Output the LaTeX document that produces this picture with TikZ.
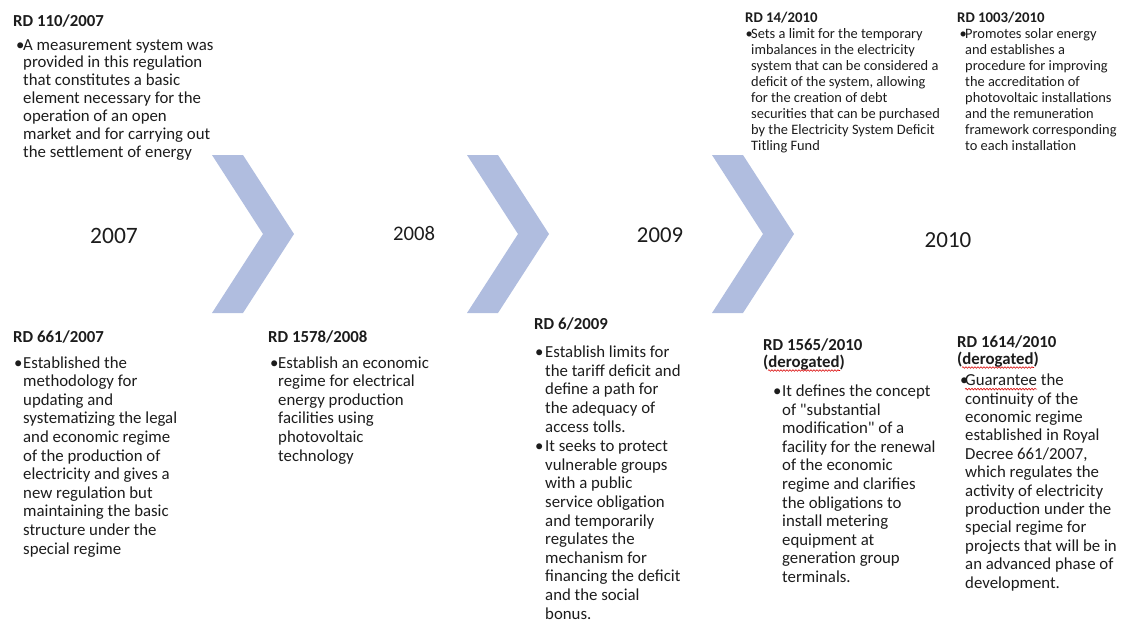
\documentclass[tikz,border=0pt]{standalone}
\usepackage{fontspec}
\setmainfont{Carlito}
\usetikzlibrary{decorations.pathmorphing}
\definecolor{chev}{RGB}{176,189,223}
\definecolor{ink}{RGB}{28,28,28}
\tikzset{
  head/.style={anchor=base west, inner sep=0pt, text=ink, align=left,
    font=\fontsize{16.8}{17.5}\selectfont\bfseries},
  body/.style={anchor=base west, inner sep=0pt, text=ink, align=left,
    font=\fontsize{16.8}{18.6}\selectfont},
  smallhead/.style={head, font=\fontsize{14.8}{16}\selectfont\bfseries},
  smallbody/.style={body, font=\fontsize{14.4}{16.1}\selectfont},
  bul/.style={anchor=base west, inner sep=0pt, text=ink, font=\fontsize{16.8}{18.6}\selectfont},
  smallbul/.style={bul, font=\fontsize{14.4}{16.1}\selectfont},
  year/.style={anchor=base, inner sep=0pt, text=ink},
  squiggle/.style={red!85!black, line width=0.6pt,
    decorate, decoration={snake, amplitude=0.8pt, segment length=3pt}}
}
\begin{document}
\begin{tikzpicture}[x=1pt, y=-1pt]
\useasboundingbox (0,0) rectangle (1126,621);
\foreach \x in {212,467,712}
  \fill[chev] (\x,155) -- (\x+31,155) -- (\x+82,234) -- (\x+31,313)
    -- (\x,313) -- (\x+51,234) -- cycle;

\node[year, font=\fontsize{23.5}{28}\selectfont] (y07) at (114,243) {2007};
\node[year, font=\fontsize{20.7}{25}\selectfont] (y08) at (414,240) {2008};
\node[year, font=\fontsize{22.7}{27}\selectfont] (y09) at (660,242) {2009};
\node[year, font=\fontsize{23}{27}\selectfont] (y10) at (948,247) {2010};

\node[head] (h110) at (13,27) {RD 110/2007};
\node[bul] (b110) at (16,50) {\textbullet};
\node[body, font=\fontsize{16.8}{17.9}\selectfont] (t110) at (23,157.4) {A measurement system was\\
  provided in this regulation\\that constitutes a basic\\element necessary for the\\
  operation of an open\\market and for carrying out\\the settlement of energy};

\node[smallhead] (h14) at (745,22) {RD 14/2010};
\node[smallbul] (b14) at (745.5,38) {\textbullet};
\node[smallbody] (t14) at (751,150.7) {Sets a limit for the temporary\\imbalances in the electricity\\
  system that can be considered a\\deficit of the system, allowing\\for the creation of debt\\
  securities that can be purchased\\by the Electricity System Deficit\\Titling Fund};

\node[smallhead] (h1003) at (957,22) {RD 1003/2010};
\node[smallbul] (b1003) at (959.5,38) {\textbullet};
\node[smallbody] (t1003) at (965,150.7) {Promotes solar energy\\and establishes a\\
  procedure for improving\\the accreditation of\\photovoltaic installations\\
  and the remuneration\\framework corresponding\\to each installation};

\node[head] (h661) at (13,342) {RD 661/2007};
\node[bul] (b661) at (14,368) {\textbullet};
\node[body] (t661) at (23,554) {Established the\\methodology for\\updating and\\
  systematizing the legal\\and economic regime\\of the production of\\
  electricity and gives a\\new regulation but\\maintaining the basic\\
  structure under the\\special regime};

\node[head] (h1578) at (268,342) {RD 1578/2008};
\node[bul] (b1578) at (270,368) {\textbullet};
\node[body] (t1578) at (278,461) {Establish an economic\\regime for electrical\\
  energy production\\facilities using\\photovoltaic\\technology};

\node[head] (h6) at (534,329) {RD 6/2009};
\node[bul] (b6a) at (535,357.6) {\textbullet};
\node[body] (t6a) at (545,432) {Establish limits for\\the tariff deficit and\\
  define a path for\\the adequacy of\\access tolls.};
\node[bul] (b6b) at (535,451.6) {\textbullet};
\node[body] (t6b) at (545,619) {It seeks to protect\\vulnerable groups\\with a public\\
  service obligation\\and temporarily\\regulates the\\mechanism for\\
  financing the deficit\\and the social\\bonus.};

\node[head] (h1565) at (763,350) {RD 1565/2010};
\node[head] (d1565) at (763,367.5) {(derogated)};
\draw[squiggle] ([xshift=5pt,yshift=-3pt]d1565.base west) -- ([xshift=-5pt,yshift=-3pt]d1565.base east);
\node[bul] (b1565) at (773,396.5) {\textbullet};
\node[body] (t1565) at (782,582.5) {It defines the concept\\of \textquotedbl substantial\\
  modification\textquotedbl{} of a\\facility for the renewal\\of the economic\\
  regime and clarifies\\the obligations to\\install metering\\
  equipment at\\generation group\\terminals.};

\node[head] (h1614) at (957,347) {RD 1614/2010};
\node[head] (d1614) at (957,364.5) {(derogated)};
\draw[squiggle] ([xshift=5pt,yshift=-3pt]d1614.base west) -- ([xshift=-5pt,yshift=-3pt]d1614.base east);
\node[bul] (b1614) at (960,385.6) {\textbullet};
\node[body, font=\fontsize{16.8}{18.4}\selectfont] (t1614) at (965,588) {Guarantee the\\
  continuity of the\\economic regime\\established in Royal\\Decree 661/2007,\\
  which regulates the\\activity of electricity\\production under the\\
  special regime for\\projects that will be in\\an advanced phase of\\development.};
\draw[squiggle] ([yshift=-3.5pt]b1614.base west) ++(5,0) -- ++(72,0);
\end{tikzpicture}
\end{document}
